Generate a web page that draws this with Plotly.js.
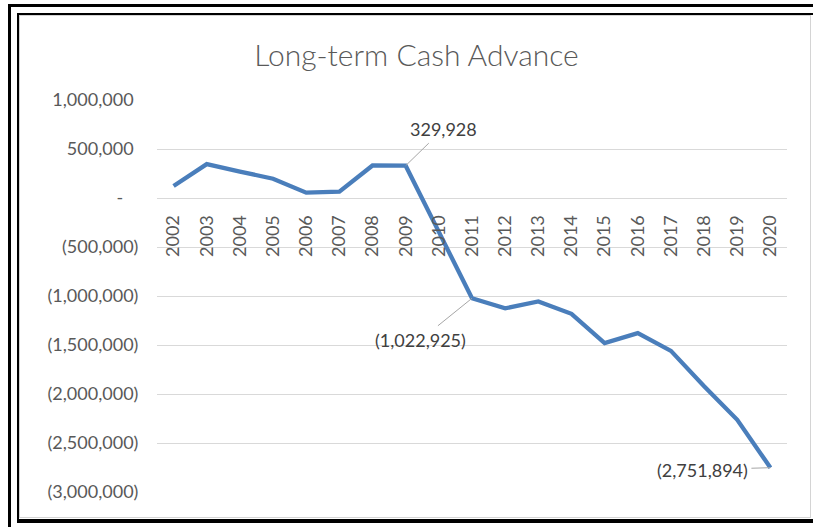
<!DOCTYPE html>
<html>
<head>
<meta charset="utf-8">
<script src="https://cdn.plot.ly/plotly-3.0.1.min.js"></script>
<style>
  html, body { margin: 0; padding: 0; background: #ffffff; }
  #wrap { position: relative; width: 813px; height: 527px; overflow: hidden; background: #ffffff; }
  #chart { position: absolute; left: 0; top: 0; width: 813px; height: 527px; }
  .f { position: absolute; pointer-events: none; }
</style>
</head>
<body>
<div id="wrap">
  <div id="chart"></div>
  <!-- decorative frames -->
  <div class="f" style="left:8px;top:4px;width:805px;height:3px;background:#000;"></div>
  <div class="f" style="left:8px;top:4px;width:3px;height:523px;background:#000;"></div>
  <div class="f" style="left:17px;top:13px;width:796px;height:2px;background:#000;"></div>
  <div class="f" style="left:17px;top:13px;width:2px;height:510px;background:#000;"></div>
  <div class="f" style="left:17px;top:519px;width:796px;height:4px;background:#000;"></div>
  <div class="f" style="left:19px;top:15px;width:792px;height:503px;border:1px solid #d4d4d4;box-sizing:border-box;"></div>
</div>
<script>
// ---- data ----
const years = [2002, 2003, 2004, 2005, 2006, 2007, 2008, 2009, 2010, 2011,
               2012, 2013, 2014, 2015, 2016, 2017, 2018, 2019, 2020];
const cashAdvance = [122000, 346000, 270000, 197000, 54000, 64000, 332000, 329928, -346000, -1022925,
                     -1126000, -1056000, -1182000, -1481000, -1379000, -1560000, -1920000, -2263000, -2751894];
const yTickValues = [1000000, 500000, 0, -500000, -1000000, -1500000, -2000000, -2500000, -3000000];
const yTickLabels = ["1,000,000", "500,000", "-", "(500,000)", "(1,000,000)", "(1,500,000)", "(2,000,000)", "(2,500,000)", "(3,000,000)"];
const labelledYears = [2009, 2011, 2020];
const labelTexts = ["329,928", "(1,022,925)", "(2,751,894)"];
const chartTitle = "Long-term Cash Advance";

const FONT = "Lato, 'Open Sans', sans-serif";
const pad = "<span style='color:#ffffff'>)</span>";
const padZero = "<span style='color:#ffffff'>0)</span>";
const tickText = yTickLabels.map(t => t.startsWith("(") ? t : (t === "-" ? t + padZero : t + pad));

const labelOffsets = [[38, -37], [-52, 42], [-68, 2]];
const annotations = labelledYears.map((yr, i) => ({
  x: yr, y: cashAdvance[years.indexOf(yr)], xref: "x", yref: "y",
  text: labelTexts[i], showarrow: true, arrowhead: 0, arrowwidth: 1, arrowcolor: "#a6a6a6",
  ax: labelOffsets[i][0], ay: labelOffsets[i][1], axref: "pixel", ayref: "pixel",
  font: { family: FONT, size: 18, color: "#404040" }, borderpad: 3, standoff: 0
}));

const trace = {
  x: years, y: cashAdvance, type: "scatter", mode: "lines",
  line: { color: "#4a7ebb", width: 4.3, shape: "linear" },
  hoverinfo: "x+y"
};

const layout = {
  width: 813, height: 527,
  margin: { l: 157, r: 26, t: 100, b: 35 },
  paper_bgcolor: "#ffffff", plot_bgcolor: "#ffffff",
  showlegend: false,
  title: { text: chartTitle, x: 416.5 / 813, xanchor: "center", y: 1 - 55 / 527, yanchor: "middle",
           font: { family: FONT, size: 30, color: "#595959", weight: 300 } },
  xaxis: {
    type: "linear", range: [2001.5, 2020.5], autorange: false,
    tickmode: "array", tickvals: years, ticktext: years.map(String),
    anchor: "free", position: 0.75,
    showgrid: false, zeroline: false, showline: false,
    ticks: "outside", ticklen: 9, tickcolor: "rgba(0,0,0,0)",
    tickangle: -90, tickfont: { family: FONT, size: 18, color: "#595959" },
    fixedrange: true
  },
  yaxis: {
    range: [-3000000, 1000000], autorange: false, tickmode: "array", tickvals: yTickValues, ticktext: tickText,
    showgrid: true, gridcolor: "#d9d9d9", gridwidth: 1,
    zeroline: true, zerolinecolor: "#d9d9d9", zerolinewidth: 1, showline: false,
    ticks: "outside", ticklen: 14, tickcolor: "rgba(0,0,0,0)",
    tickfont: { family: FONT, size: 18, color: "#595959" },
    fixedrange: true
  },
  annotations: annotations
};

Plotly.newPlot("chart", [trace], layout, { displayModeBar: false, staticPlot: true });
</script>
</body>
</html>
